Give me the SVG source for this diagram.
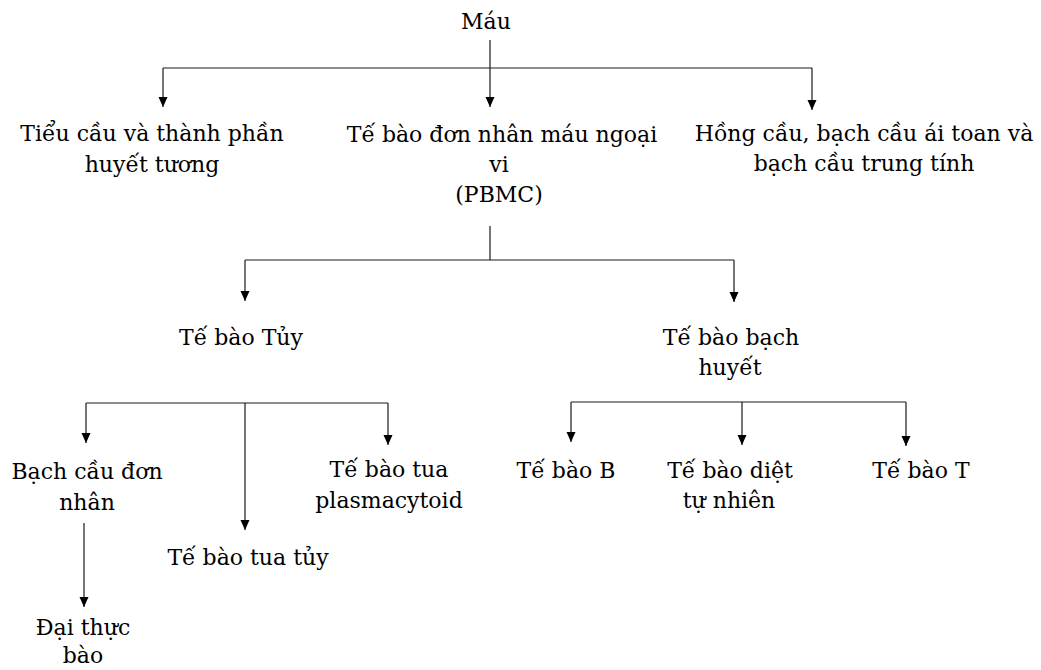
<svg xmlns="http://www.w3.org/2000/svg" width="1041" height="670" viewBox="0 0 1041 670">
<style>
.t{font-family:'DejaVu Serif',serif;font-size:22px;fill:#000;text-anchor:middle}
.c{stroke:#1a1a1a;stroke-width:1.2;fill:none}
.a{marker-end:url(#arr)}
</style>
<defs>
<marker id="arr" markerUnits="userSpaceOnUse" markerWidth="10" markerHeight="10" refX="10" refY="4.5" orient="auto">
<path d="M0,0 L10,4.5 L0,9 z" fill="#000"/>
</marker>
</defs>
<rect width="1041" height="670" fill="#fff"/>
<g id="connectors">
<path class="c a" d="M490,40 V107"/>
<path class="c" d="M163,68 H812"/>
<path class="c a" d="M163,68 V107"/>
<path class="c a" d="M812,68 V110"/>
<path class="c" d="M490,226 V260"/>
<path class="c" d="M245,260 H734"/>
<path class="c a" d="M245,260 V301"/>
<path class="c a" d="M734,260 V302"/>
<path class="c" d="M86,403 H388"/>
<path class="c a" d="M86,403 V443"/>
<path class="c a" d="M245,403 V530"/>
<path class="c a" d="M388,403 V445"/>
<path class="c" d="M571,402 H906"/>
<path class="c a" d="M571,402 V442"/>
<path class="c a" d="M742,402 V445"/>
<path class="c a" d="M906,402 V446"/>
<path class="c a" d="M84,523 V607"/>
</g>
<g id="mau"><text class="t" x="486" y="29">Máu</text></g>
<g id="tieucau"><text class="t" x="152" y="141">Tiểu cầu và thành phần</text><text class="t" x="152" y="172">huyết tương</text></g>
<g id="pbmc"><text class="t" x="502" y="142">Tế bào đơn nhân máu ngoại</text><text class="t" x="499" y="172">vi</text><text class="t" x="499" y="202">(PBMC)</text></g>
<g id="hongcau"><text class="t" x="864" y="141">Hồng cầu, bạch cầu ái toan và</text><text class="t" x="864" y="171">bạch cầu trung tính</text></g>
<g id="tuy"><text class="t" x="241" y="345">Tế bào Tủy</text></g>
<g id="bachhuyet"><text class="t" x="731" y="345">Tế bào bạch</text><text class="t" x="730" y="375">huyết</text></g>
<g id="bachcaudonnhan"><text class="t" x="87" y="479">Bạch cầu đơn</text><text class="t" x="87" y="510">nhân</text></g>
<g id="tuatuy"><text class="t" x="248" y="565">Tế bào tua tủy</text></g>
<g id="plasmacytoid"><text class="t" x="389" y="477">Tế bào tua</text><text class="t" x="389" y="508">plasmacytoid</text></g>
<g id="daithucbao"><text class="t" x="83" y="635">Đại thực</text><text class="t" x="83" y="663">bào</text></g>
<g id="tebaoB"><text class="t" x="566" y="478">Tế bào B</text></g>
<g id="nk"><text class="t" x="730" y="478">Tế bào diệt</text><text class="t" x="729" y="508">tự nhiên</text></g>
<g id="tebaoT"><text class="t" x="921" y="478">Tế bào T</text></g>
</svg>
